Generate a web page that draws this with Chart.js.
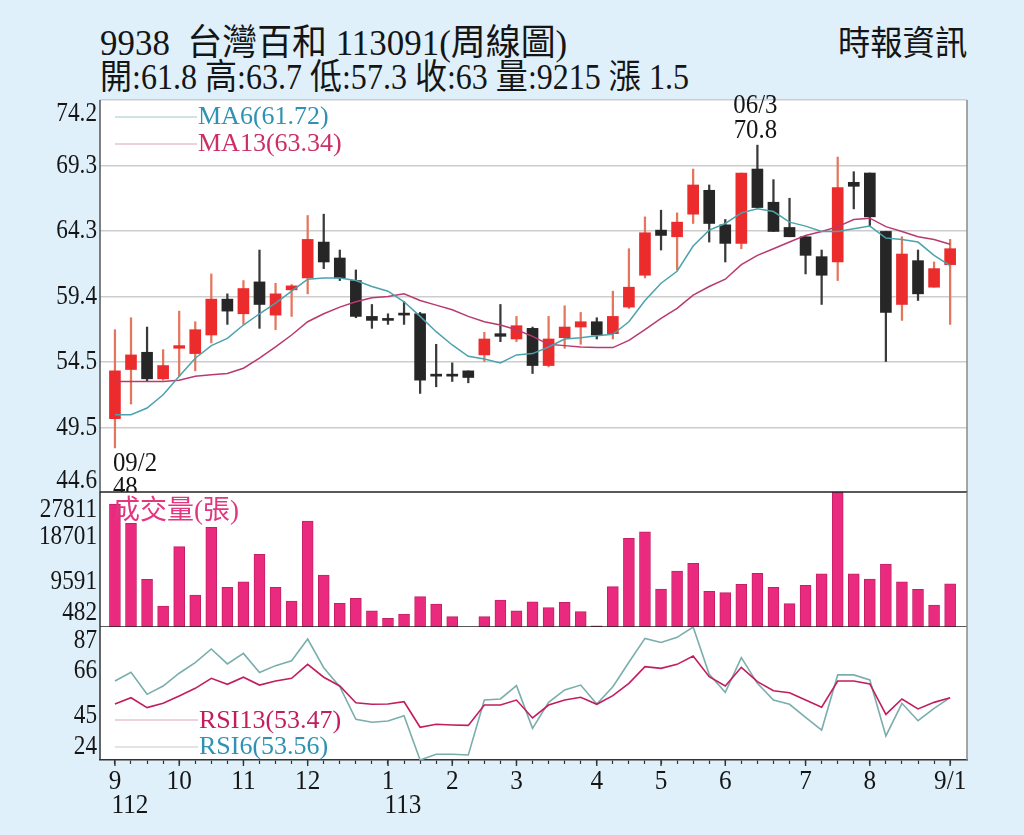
<!DOCTYPE html>
<html>
<head>
<meta charset="utf-8">
<script src="https://cdn.jsdelivr.net/npm/chart.js@4.4.1/dist/chart.umd.min.js"></script>
<style>
  html, body { margin: 0; padding: 0; background: #dff0fb; }
  #card { position: relative; width: 1024px; height: 835px; overflow: hidden; background: #dff0fb; }
  canvas { position: absolute; left: 0; }
  .t { position: absolute; white-space: nowrap; color: #151515; transform-origin: 0 0;
       font-family: "Liberation Serif", "Noto Sans CJK TC", serif; line-height: 1; }
</style>
</head>
<body>
<div id="card">
  <div class="t" style="left:100px;top:25px;font-size:36px;transform:scaleX(.97)">9938&nbsp; 台灣百和 113091(周線圖)</div>
  <div class="t" style="left:100px;top:60px;font-size:35px;transform:scaleX(.915)">開:61.8 高:63.7 低:57.3 收:63 量:9215 漲 1.5</div>
  <div class="t" style="left:838px;top:27px;font-size:34px;transform:scaleX(.95)">時報資訊</div>
  <canvas id="price" width="1024" height="414" style="top:80px"></canvas>
  <canvas id="volume" width="1024" height="150" style="top:480px"></canvas>
  <canvas id="rsi" width="1024" height="220" style="top:615px"></canvas>
</div>
<script>
(function() {
  "use strict";

  // ===== Data (weekly, 112/09 .. 113/09) =====
  var xLabels = [
    "9", "", "", "",
    "10", "", "", "",
    "11", "", "", "",
    "12", "", "", "", "",
    "1", "", "", "",
    "2", "", "", "",
    "3", "", "", "", "",
    "4", "", "", "",
    "5", "", "", "",
    "6", "", "", "", "",
    "7", "", "", "",
    "8", "", "", "", "",
    "9/1"
  ];
  var yearTicks = [0, 17];
  var yearNames = ["112", "113"];

  var opens = [50.2, 53.9, 55.2, 53.2, 55.5, 55.1, 56.5, 59.2, 58.1, 60.5, 58.0, 59.9, 60.8,
    63.5, 62.3, 60.6, 57.9, 57.6, 58.0, 58.1, 53.4, 53.4, 53.8, 55.0, 56.6, 56.2, 57.0,
    54.2, 56.3, 57.1, 57.5, 56.6, 58.6, 61.0, 64.4, 63.9, 65.6, 67.4, 64.8, 63.4, 69.0,
    66.5, 64.6, 63.9, 62.4, 62.0, 68.0, 68.7, 64.3, 58.8, 62.1, 60.1, 61.8];
  var highs = [56.9, 57.8, 57.1, 55.4, 58.3, 57.5, 61.1, 59.6, 60.6, 62.9, 60.4, 60.3, 65.5,
    65.6, 62.9, 61.4, 58.8, 58.1, 59.0, 58.2, 55.8, 54.4, 53.8, 56.7, 58.8, 57.9, 57.1,
    57.9, 58.7, 58.2, 57.8, 59.8, 63.0, 65.4, 65.9, 65.7, 69.0, 67.8, 65.2, 68.7, 70.8,
    68.2, 66.8, 63.9, 62.9, 69.9, 68.8, 68.7, 64.3, 63.9, 62.9, 62.0, 63.7];
  var lows = [48.0, 51.3, 53.0, 53.1, 53.4, 53.8, 55.9, 57.3, 57.3, 57.0, 56.9, 57.9, 59.6,
    61.5, 60.6, 57.8, 57.0, 57.3, 57.3, 52.1, 52.6, 53.0, 52.9, 54.5, 56.0, 56.0, 53.6,
    54.1, 55.5, 55.8, 56.2, 56.2, 58.5, 60.8, 62.9, 61.4, 64.9, 63.5, 62.0, 63.0, 66.1,
    64.3, 63.9, 61.1, 58.8, 60.6, 66.0, 64.7, 54.5, 57.6, 59.1, 60.1, 57.3];
  var closes = [53.8, 55.0, 53.2, 54.2, 55.7, 56.9, 59.2, 58.3, 60.0, 58.8, 59.6, 60.2, 63.7,
    62.0, 60.8, 57.9, 57.6, 57.6, 58.0, 53.1, 53.4, 53.4, 53.3, 56.2, 56.4, 57.2, 54.2,
    56.2, 57.1, 57.5, 56.5, 57.9, 60.1, 64.2, 64.0, 65.0, 67.8, 64.9, 63.4, 68.7, 66.1,
    64.3, 63.9, 62.5, 61.0, 67.6, 67.7, 65.4, 58.2, 62.6, 59.6, 61.5, 63.0];
  var volumes = [25380, 21470, 10140, 4730, 16740, 6960, 20660, 8520, 9650, 15200, 8520, 5740, 21940,
    11010, 5280, 6290, 3780, 2240, 3110, 6620, 5140, 2570, 482, 2570, 5950, 3780, 5600,
    4390, 5480, 3580, 700, 8640, 18440, 19770, 8170, 11820, 13380, 7710, 7430, 9130, 11350,
    8520, 5200, 8920, 11270, 27811, 11270, 10200, 13230, 9650, 8110, 4940, 9215];
  var ma6 = [50.5, 50.5, 51.0, 52.0, 53.4, 54.75, 55.7, 56.25, 57.25, 58.1, 58.9, 59.8, 60.7,
    60.8, 60.8, 60.6, 60.15, 59.8, 59.0, 57.9, 56.75, 55.75, 54.9, 54.7, 54.4, 55.0, 55.1,
    55.6, 56.2, 56.3, 56.45, 56.55, 57.5, 59.1, 60.4, 61.3, 63.2, 64.4, 64.9, 65.7, 66.0,
    65.8, 65.0, 64.7, 64.3, 64.3, 64.5, 64.7, 63.8, 63.7, 63.5, 62.5, 61.72];
  var ma13 = [53.0, 53.0, 53.0, 53.0, 53.1, 53.4, 53.5, 53.6, 54.0, 54.75, 55.6, 56.5, 57.5,
    58.1, 58.6, 59.0, 59.3, 59.4, 59.6, 59.1, 58.75, 58.4, 57.9, 57.5, 57.25, 56.9, 56.4,
    55.8, 55.7, 55.6, 55.55, 55.55, 56.1, 56.9, 57.75, 58.5, 59.5, 60.15, 60.7, 61.8, 62.5,
    63.0, 63.5, 64.0, 64.3, 64.66, 65.2, 65.3, 64.66, 64.3, 63.9, 63.7, 63.34];
  var rsi6 = [61.4, 65.5, 55.1, 59.05, 65.1, 70.1, 76.6, 69.5, 74.5, 65.4, 68.7, 71.0, 81.3,
    67.7, 58.7, 43.3, 41.85, 42.5, 45.0, 24.0, 26.7, 26.7, 26.4, 52.4, 52.9, 59.2, 39.0,
    51.3, 57.2, 59.5, 50.5, 58.7, 70.3, 81.6, 79.7, 82.1, 87.0, 64.6, 56.1, 72.5, 60.3,
    52.4, 50.4, 44.2, 38.2, 64.3, 64.3, 61.9, 35.4, 50.85, 42.6, 48.5, 53.56];
  var rsi13 = [50.5, 53.5, 48.8, 50.85, 54.3, 57.95, 62.7, 59.85, 63.2, 59.5, 61.4, 62.7, 69.3,
    63.2, 59.05, 51.1, 50.4, 50.5, 51.6, 39.5, 40.9, 40.6, 40.4, 50.05, 50.05, 52.4, 43.9,
    50.05, 52.4, 53.7, 50.4, 54.5, 60.3, 68.2, 67.4, 69.3, 73.3, 63.45, 59.05, 67.9, 61.1,
    56.8, 55.9, 52.4, 49.0, 61.4, 61.4, 60.0, 45.6, 52.9, 48.2, 51.3, 53.47];

  var priceTicks = [44.6, 49.53, 54.47, 59.4, 64.33, 69.27, 74.2];
  var priceTickLabels = ["44.6", "49.5", "54.5", "59.4", "64.3", "69.3", "74.2"];
  var volumeTicks = [482, 9591, 18701, 27811];
  var volumeTickLabels = ["482", "9591", "18701", "27811"];
  var rsiTicks = [24, 45, 66, 87];
  var rsiTickLabels = ["24", "45", "66", "87"];

  // ===== Styles =====
  var SERIF = '"Liberation Serif", "Noto Sans CJK TC", serif';
  var RED = "#ec2b2d";
  var RED_WICK = "#e5765e";
  var BLACK = "#262626";
  var X_MIN = -0.93, X_MAX = 53.05;
  var AXIS_FONT = "27px " + SERIF;

  function pts(arr) {
    return arr.map(function(v, i) { return { x: i, y: v }; });
  }

  function isUp(i) { return closes[i] > opens[i]; }

  function txt(ctx, s, x, y, font, color, align, sx) {
    ctx.save();
    ctx.font = font;
    ctx.fillStyle = color;
    ctx.textAlign = align || "left";
    ctx.textBaseline = "middle";
    ctx.translate(x, y);
    ctx.scale(sx || 1, 1);
    ctx.fillText(s, 0, 0);
    ctx.restore();
  }

  function line(ctx, x1, y1, x2, y2, color, w) {
    ctx.save();
    ctx.strokeStyle = color;
    ctx.lineWidth = w;
    ctx.beginPath();
    ctx.moveTo(x1, y1);
    ctx.lineTo(x2, y2);
    ctx.stroke();
    ctx.restore();
  }

  // y labels, nudged inside the panel at its edges
  function drawYLabels(chart, values, labels, insetTop, insetBottom) {
    var ctx = chart.ctx, ys = chart.scales.y, a = chart.chartArea;
    for (var i = 0; i < values.length; i++) {
      var y = ys.getPixelForValue(values[i]);
      y = Math.max(a.top + insetTop, Math.min(a.bottom - insetBottom, y));
      txt(ctx, labels[i], a.left - 3, y, AXIS_FONT, "#151515", "right", 0.86);
    }
  }

  var panelPlugin = {
    id: "panel",
    beforeDraw: function(chart) {
      var a = chart.chartArea, ctx = chart.ctx;
      ctx.save();
      ctx.fillStyle = "#ffffff";
      ctx.fillRect(a.left, a.top, a.right - a.left, a.bottom - a.top);
      ctx.restore();
    }
  };

  function xScale(show) {
    return {
      type: "linear", min: X_MIN, max: X_MAX, offset: false, display: show,
      afterBuildTicks: function(s) {
        s.ticks = xLabels.map(function(l, i) { return { value: i }; });
      },
      afterFit: function(s) { if (show) s.height = 75; },
      ticks: { display: false },
      grid: { display: show, drawOnChartArea: false, drawTicks: true, tickLength: 4, tickColor: "#333", tickWidth: 1.2, offset: false },
      border: { display: show, color: "#333", width: 1.5 }
    };
  }

  function yScale(min, max, ticks, grid) {
    return {
      min: min, max: max, beginAtZero: false,
      afterBuildTicks: function(s) {
        s.ticks = ticks.map(function(v) { return { value: v }; });
      },
      afterFit: function(s) { s.width = 100; },
      ticks: { display: false },
      grid: grid ? { color: "#cdcdcd", lineWidth: 1.5, drawTicks: false } : { display: false },
      border: { display: false }
    };
  }

  var common = {
    responsive: false, animation: false, devicePixelRatio: 1, events: [],
    plugins: { legend: { display: false }, tooltip: { enabled: false } }
  };

  // ===== Price panel =====
  new Chart(document.getElementById("price"), {
    type: "bar",
    data: {
      datasets: [
        { type: "line", data: pts(ma6), borderColor: "#4aa3ad", borderWidth: 1.5, pointRadius: 0, tension: 0, order: 0 },
        { type: "line", data: pts(ma13), borderColor: "#b83a6e", borderWidth: 1.5, pointRadius: 0, tension: 0, order: 0 },
        {
          data: opens.map(function(o, i) { return { x: i, y: [o, closes[i]] }; }),
          backgroundColor: function(c) { return isUp(c.dataIndex) ? RED : BLACK; },
          barThickness: 11, minBarLength: 2, grouped: false, order: 1
        },
        {
          data: lows.map(function(l, i) { return { x: i, y: [l, highs[i]] }; }),
          backgroundColor: function(c) { return isUp(c.dataIndex) ? RED_WICK : "#3a3a3a"; },
          barThickness: 1.6, grouped: false, order: 2
        }
      ]
    },
    options: Object.assign({}, common, {
      layout: { padding: { top: 20, right: 57, bottom: 1, left: 0 } },
      scales: { x: xScale(false), y: yScale(44.6, 74.2, priceTicks, true) }
    }),
    plugins: [panelPlugin, {
      id: "priceDecor",
      afterDraw: function(chart) {
        var ctx = chart.ctx, a = chart.chartArea, xs = chart.scales.x, ys = chart.scales.y;
        line(ctx, a.left, a.top, a.left, a.bottom, "#555", 1.5);
        line(ctx, a.right, a.top, a.right, a.bottom, "#8a8a8a", 1.5);
        drawYLabels(chart, priceTicks, priceTickLabels, 14, 12);
        // legend
        line(ctx, a.left + 15, a.top + 17, a.left + 97, a.top + 17, "#9cc8cc", 1.2);
        txt(ctx, "MA6(61.72)", a.left + 98, a.top + 17, "26px " + SERIF, "#2f92b4", "left", 1.0);
        line(ctx, a.left + 15, a.top + 44, a.left + 97, a.top + 44, "#d7a3ba", 1.2);
        txt(ctx, "MA13(63.34)", a.left + 98, a.top + 44, "26px " + SERIF, "#cc2f68", "left", 1.0);
        // low / high marks
        var lo = 0, hi = 40;
        var xl = xs.getPixelForValue(lo), yl = ys.getPixelForValue(lows[lo]);
        txt(ctx, "09/2", xl - 2, yl + 16, AXIS_FONT, "#151515", "left", 0.92);
        txt(ctx, "48", xl - 2, yl + 40, AXIS_FONT, "#151515", "left", 0.92);
        var xh = xs.getPixelForValue(hi), yh = ys.getPixelForValue(highs[hi]);
        txt(ctx, "06/3", xh - 2, yh - 39, AXIS_FONT, "#151515", "center", 0.92);
        txt(ctx, "70.8", xh - 2, yh - 14, AXIS_FONT, "#151515", "center", 0.92);
      }
    }]
  });

  // ===== Volume panel =====
  new Chart(document.getElementById("volume"), {
    type: "bar",
    data: {
      datasets: [{
        data: pts(volumes), backgroundColor: "#ea2a7f", borderColor: "#c42064",
        borderWidth: 1, barThickness: 11, minBarLength: 1
      }]
    },
    options: Object.assign({}, common, {
      layout: { padding: { top: 12, right: 57, bottom: 3, left: 0 } },
      scales: { x: xScale(false), y: yScale(482, 27811, volumeTicks, false) }
    }),
    plugins: [panelPlugin, {
      id: "volDecor",
      afterDraw: function(chart) {
        var ctx = chart.ctx, a = chart.chartArea;
        line(ctx, a.left, a.top, a.right, a.top, "#222", 1.6);
        line(ctx, a.left, a.bottom, a.right, a.bottom, "#222", 1.6);
        line(ctx, a.left, a.top, a.left, a.bottom, "#333", 1.5);
        line(ctx, a.right, a.top, a.right, a.bottom, "#8a8a8a", 1.5);
        drawYLabels(chart, volumeTicks, volumeTickLabels, 18, 14);
        txt(ctx, "成交量(張)", a.left + 13, a.top + 20, "27px " + SERIF, "#e2367f", "left", 1.0);
      }
    }]
  });

  // ===== RSI panel =====
  new Chart(document.getElementById("rsi"), {
    type: "line",
    data: {
      datasets: [
        { data: pts(rsi13), borderColor: "#c21d5c", borderWidth: 1.6, pointRadius: 0, tension: 0 },
        { data: pts(rsi6), borderColor: "#7aaead", borderWidth: 1.6, pointRadius: 0, tension: 0 }
      ]
    },
    options: Object.assign({}, common, {
      layout: { padding: { top: 12, right: 57, bottom: 0, left: 0 } },
      scales: { x: xScale(true), y: yScale(24, 87, rsiTicks, false) }
    }),
    plugins: [panelPlugin, {
      id: "rsiDecor",
      afterDraw: function(chart) {
        var ctx = chart.ctx, a = chart.chartArea, xs = chart.scales.x;
        line(ctx, a.left, a.top, a.left, a.bottom, "#333", 1.5);
        line(ctx, a.right, a.top, a.right, a.bottom, "#8a8a8a", 1.5);
        drawYLabels(chart, rsiTicks, rsiTickLabels, 14, 13);
        // legend
        line(ctx, a.left + 15, a.top + 93, a.left + 98, a.top + 93, "#dba6bc", 1.2);
        txt(ctx, "RSI13(53.47)", a.left + 99, a.top + 94, "26px " + SERIF, "#c21d5c", "left", 1.0);
        line(ctx, a.left + 15, a.top + 120, a.left + 98, a.top + 120, "#c8c8c8", 1.2);
        txt(ctx, "RSI6(53.56)", a.left + 99, a.top + 120, "26px " + SERIF, "#2f92b4", "left", 1.0);
        // month labels
        for (var i = 0; i < xLabels.length; i++) {
          if (!xLabels[i]) continue;
          var x = xs.getPixelForValue(i);
          line(ctx, x, a.bottom, x, a.bottom + 6, "#333", 1.4);
          txt(ctx, xLabels[i], x, a.bottom + 22, "28px " + SERIF, "#151515", "center", 0.9);
        }
        for (var k = 0; k < yearTicks.length; k++) {
          var xx = xs.getPixelForValue(yearTicks[k]);
          txt(ctx, yearNames[k], xx + 15, a.bottom + 46, "28px " + SERIF, "#151515", "center", 0.9);
        }
      }
    }]
  });
})();
</script>
</body>
</html>
